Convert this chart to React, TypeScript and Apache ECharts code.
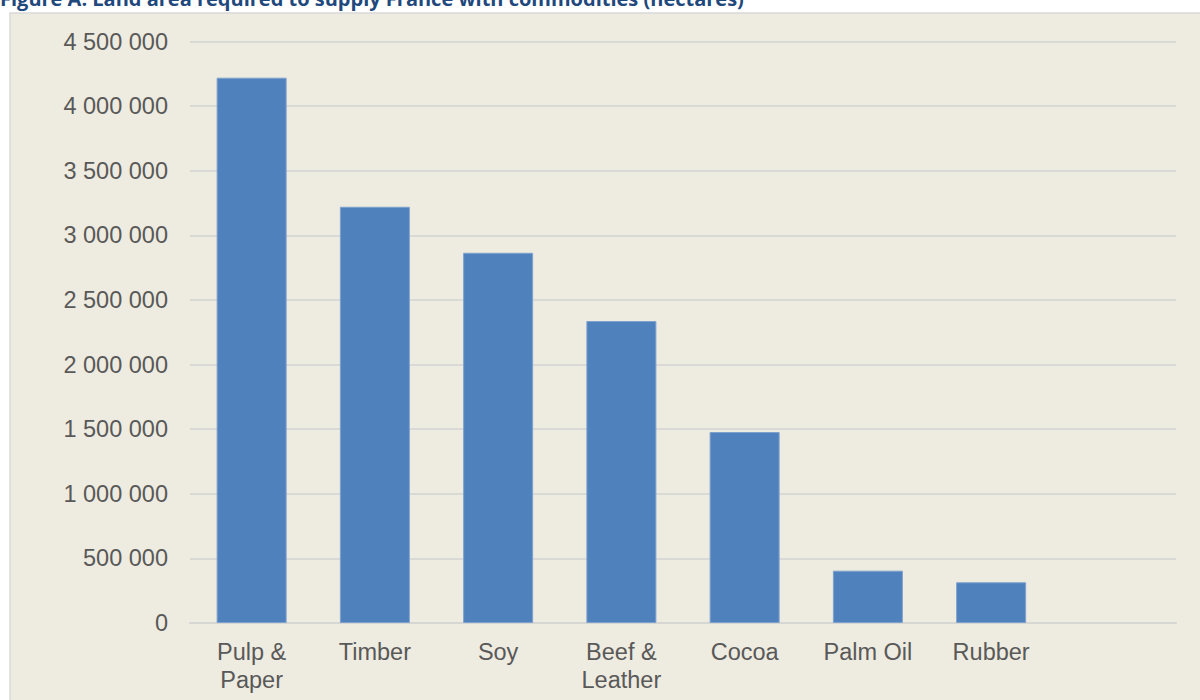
import React, { useEffect, useRef } from "react";
import * as echarts from "echarts";

const title = "Figure A: Land area required to supply France with commodities (hectares)";
const categories = ["Pulp &\nPaper", "Timber", "Soy", "Beef &\nLeather", "Cocoa", "Palm Oil", "Rubber", ""];
const landArea = [4220000, 3221000, 2865000, 2337000, 1478000, 405000, 315000, null];
const yMin = 0;
const yMax = 4500000;
const yStep = 500000;

const fmt = (v: number) => String(v).replace(/\B(?=(\d{3})+(?!\d))/g, " ");

export default function App() {
  const ref = useRef<HTMLDivElement>(null);
  useEffect(() => {
    if (!ref.current) return;
    const chart = echarts.init(ref.current, null, { renderer: "svg" });
    chart.setOption({
      animation: false,
      backgroundColor: "#ffffff",
      graphic: [
        {
          type: "rect",
          shape: { x: 10, y: 13, width: 1200, height: 700 },
          style: { fill: "#EEEBE0", stroke: "#D9D9D9", lineWidth: 1.5 },
          z: -10,
          silent: true,
        },
        {
          type: "text",
          x: 0,
          y: -1.5,
          style: {
            text: title,
            fill: "#1F497D",
            font: "bold 20px 'Open Sans'",
            verticalAlign: "middle",
            align: "left",
          },
          silent: true,
        },
      ],
      grid: { left: 190, right: 24, top: 41.5, bottom: 77, containLabel: false },
      xAxis: {
        type: "category",
        data: categories,
        axisLine: { lineStyle: { color: "#D6D6D2", width: 2 } },
        axisTick: { show: false },
        axisLabel: {
          color: "#595959",
          fontFamily: "Liberation Sans",
          fontSize: 23.5,
          lineHeight: 28,
          margin: 15,
          interval: 0,
        },
      },
      yAxis: {
        type: "value",
        min: yMin,
        max: yMax,
        interval: yStep,
        axisLine: { show: false },
        axisTick: { show: false },
        splitLine: { lineStyle: { color: "#D9D9D6", width: 2 } },
        axisLabel: {
          color: "#595959",
          fontFamily: "Liberation Sans",
          fontSize: 23.5,
          margin: 22,
          formatter: (v: number) => fmt(v),
        },
      },
      series: [
        {
          type: "bar",
          data: landArea,
          barWidth: 70,
          itemStyle: { color: "#4F81BD", borderColor: "#7EA2CE", borderWidth: 1 },
        },
      ],
    });
    return () => chart.dispose();
  }, []);
  return (
    <div
      ref={ref}
      style={{ position: "fixed", left: 0, top: 0, width: 1200, height: 700 }}
    />
  );
}
